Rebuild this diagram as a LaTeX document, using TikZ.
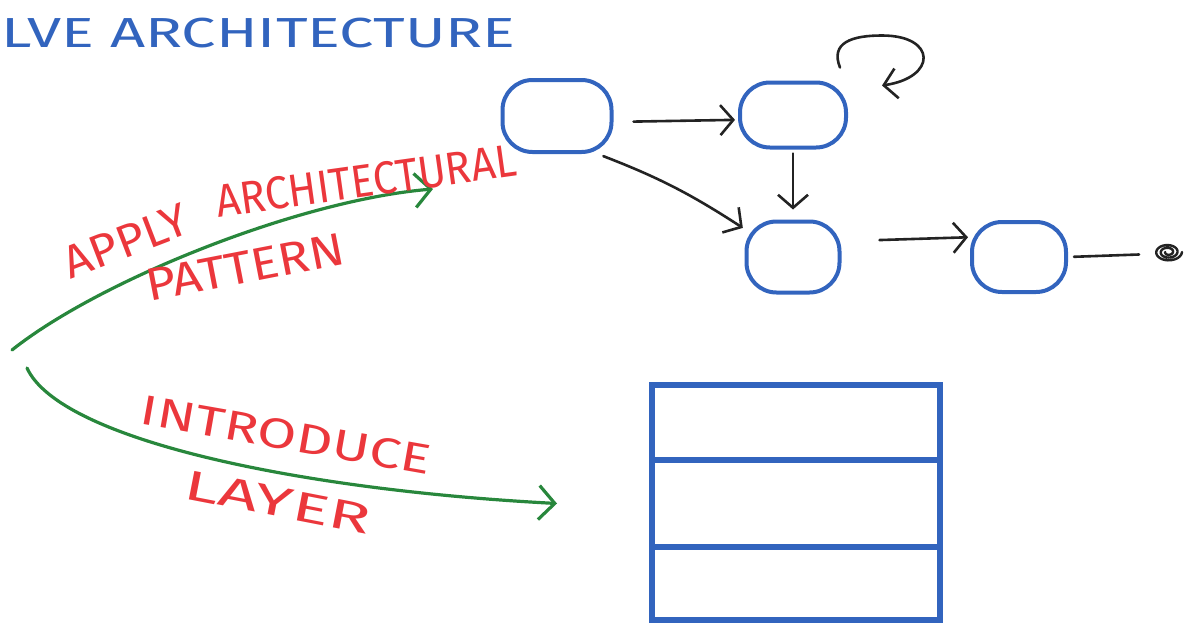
\documentclass[tikz,border=0pt]{standalone}
\usepackage{fontspec}
\setmainfont{Fira Sans}
\usetikzlibrary{arrows.meta}
\definecolor{inkblue}{RGB}{50,100,190}
\definecolor{inkred}{RGB}{235,55,60}
\definecolor{inkgreen}{RGB}{40,135,60}
\definecolor{inkblack}{RGB}{35,35,35}
\begin{document}
\begin{tikzpicture}[x=1pt,y=-1pt,
  blob/.style={draw=inkblue, line width=4pt, rounded corners=30pt, inner sep=0pt},
  layerbox/.style={draw=inkblue, line width=6pt, minimum width=288pt, inner sep=0pt, outer sep=0pt},
  flow/.style={draw=inkblack, line width=2.6pt, line cap=round,
    -{Straight Barb[length=13pt,width=30pt,line width=2.6pt]}},
  move/.style={draw=inkgreen, line width=3.2pt, line cap=round,
    -{Straight Barb[length=16pt,width=34pt,line width=3.2pt]}},
  title/.style={text=inkblue, font=\fontsize{42}{42}\selectfont, inner sep=0pt},
  note/.style={text=inkred, font=\fontsize{42}{42}\selectfont, inner sep=0pt}
]
\useasboundingbox (0,0) rectangle (1185,624);

% heading
\node[title, anchor=west, xscale=1.46] (heading) at (1,33) {LVE ARCHITECTURE};

% component graph
\node[blob, minimum width=109pt, minimum height=72pt] (A) at (557,116) {};
\node[blob, minimum width=106pt, minimum height=65pt] (B) at (793,115) {};
\node[blob, minimum width=93pt, minimum height=71pt] (C) at (793,257) {};
\node[blob, minimum width=94pt, minimum height=70pt] (D) at (1019,257) {};
\coordinate (sink) at (1153,254);

\draw[flow, shorten <=20pt, shorten >=3pt] (A.-6) -- (B.185);
\draw[flow, shorten <=6pt, shorten >=2pt] (A.-43) to[bend left=6] (C.150);
\draw[flow, shorten <=4pt, shorten >=10pt] (B.south) -- (C.north);
\draw[flow, shorten <=38pt, shorten >=2pt] (C.18) -- (D.158);
\draw[flow] ([shift={(-8,-13)}]B.north east)
  .. controls +(-10,-25) and +(-30,0) .. ++(42,-32)
  .. controls +(55,0) and +(55,-8) .. ++(0,50);
\draw[draw=inkblack, line width=2.6pt, line cap=round, shorten <=6pt, shorten >=14pt] (D.east) -- (sink);
\draw[draw=inkblack, line width=2.4pt, line cap=round]
  plot[domain=0:900, samples=90, variable=\t]
  ({1168 + (14 - \t/80)*cos(\t)}, {252 + (9 - \t/130)*sin(\t)});

% layered stack
\node[layerbox, minimum height=75pt, anchor=north] (L1) at (796,385) {};
\node[layerbox, minimum height=87pt, anchor=north] (L2) at (L1.south) {};
\node[layerbox, minimum height=73pt, anchor=north] (L3) at (L2.south) {};

% refactoring moves
\coordinate (fork1) at (12,350);
\coordinate (fork2) at (27,368);
\coordinate (toPattern) at (433,189);
\draw[move] (fork1) .. controls (100,280) and (300,200) .. (toPattern);
\draw[move] (fork2) .. controls (60,440) and (300,490) .. (L2.west -| 557,0);

\node[note, rotate=21, xscale=1.05, font=\fontsize{46}{46}\selectfont] (apply) at (126,241) {APPLY};
\node[note, rotate=8, xscale=0.92, font=\fontsize{46}{46}\selectfont] (archi) at (366,181) {ARCHITECTURAL};
\node[note, rotate=11, xscale=1.12, font=\fontsize{46}{46}\selectfont] (pattern) at (245,267) {PATTERN};
\node[note, rotate=-10, xscale=1.35] (intro) at (286,435) {INTRODUCE};
\node[note, rotate=-11, xscale=1.66] (layer) at (278,502) {LAYER};
\end{tikzpicture}
\end{document}
